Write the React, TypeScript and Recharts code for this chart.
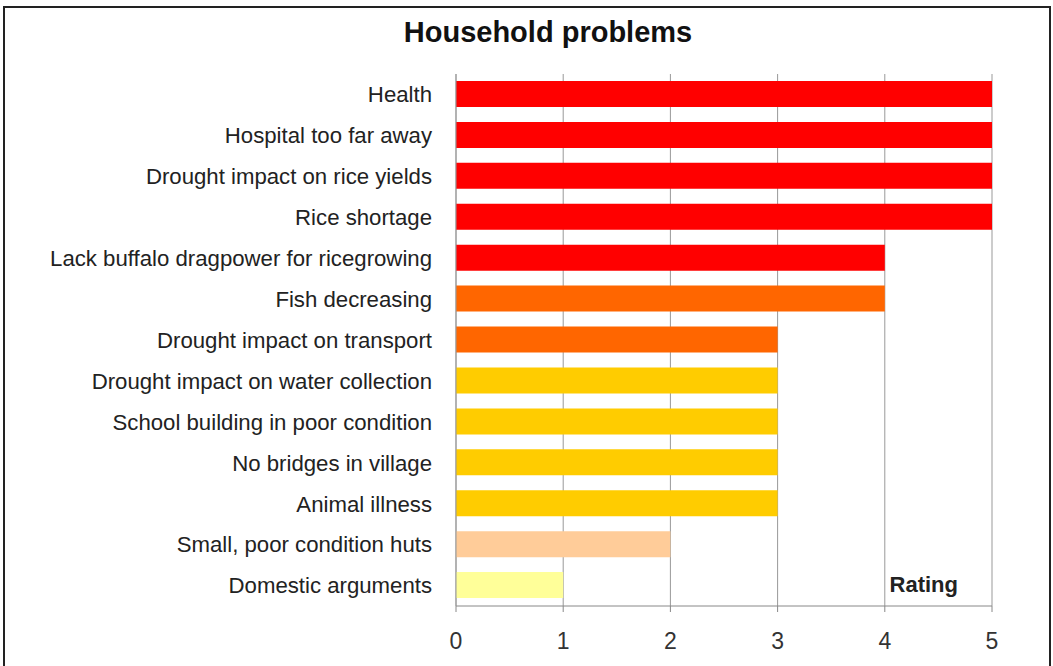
import { Bar, BarChart, CartesianGrid, Cell, Label, XAxis, YAxis } from 'recharts';

const problems = [
  'Health',
  'Hospital too far away',
  'Drought impact on rice yields',
  'Rice shortage',
  'Lack buffalo dragpower for ricegrowing',
  'Fish decreasing',
  'Drought impact on transport',
  'Drought impact on water collection',
  'School building in poor condition',
  'No bridges in village',
  'Animal illness',
  'Small, poor condition huts',
  'Domestic arguments',
];

const ratings = [5, 5, 5, 5, 4, 4, 3, 3, 3, 3, 3, 2, 1];

const ratingTicks = [0, 1, 2, 3, 4, 5];

// one fill per bar, severity from red down to pale yellow
const barColors = [
  '#FF0000',
  '#FF0000',
  '#FF0000',
  '#FF0000',
  '#FF0000',
  '#FF6600',
  '#FF6600',
  '#FFCC00',
  '#FFCC00',
  '#FFCC00',
  '#FFCC00',
  '#FFCC99',
  '#FFFF99',
];

const rows = problems.map((name, i) => ({ name, rating: ratings[i] }));

const FONT = '"Liberation Sans", Arial, sans-serif';

function RatingLabel({ viewBox }: { viewBox?: { x: number; y: number; width: number } }) {
  if (!viewBox) return null;
  return (
    <text
      x={viewBox.x + viewBox.width - 34}
      y={viewBox.y - 14}
      textAnchor="end"
      fontFamily={FONT}
      fontWeight="bold"
      fontSize={22}
      fill="#222"
    >
      Rating
    </text>
  );
}

export default function App() {
  return (
    <div
      style={{
        position: 'fixed',
        left: 0,
        top: 0,
        width: 1053,
        height: 666,
        overflow: 'hidden',
        background: '#fff',
      }}
    >
      <div
        style={{
          position: 'absolute',
          left: 3,
          top: 6,
          width: 1048,
          height: 720,
          boxSizing: 'border-box',
          border: '2px solid #222',
        }}
      />
      <div
        style={{
          position: 'absolute',
          left: 348,
          top: 18,
          width: 400,
          textAlign: 'center',
          fontFamily: FONT,
          fontWeight: 'bold',
          fontSize: 29,
          lineHeight: 1,
          color: '#111',
        }}
      >
        Household problems
      </div>
      <div style={{ position: 'absolute', left: 0, top: 0 }}>
        <BarChart
          width={1053}
          height={666}
          data={rows}
          layout="vertical"
          margin={{ top: 74, right: 61, bottom: 0, left: 0 }}
          barSize={26}
        >
          <CartesianGrid horizontal={false} stroke="#999" />
          <XAxis
            type="number"
            domain={[0, 5]}
            ticks={ratingTicks}
            height={60}
            stroke="#888"
            tickSize={6}
            tickMargin={21}
            tick={{ fontFamily: FONT, fontSize: 23, fill: '#333' }}
          >
            <Label content={<RatingLabel />} />
          </XAxis>
          <YAxis
            type="category"
            dataKey="name"
            width={456}
            stroke="#999"
            tickLine={false}
            tickSize={0}
            tickMargin={24}
            interval={0}
            tick={{ fontFamily: FONT, fontSize: 22.2, fill: '#222' }}
          />
          <Bar dataKey="rating" isAnimationActive={false}>
            {rows.map((r, i) => (
              <Cell key={r.name} fill={barColors[i]} />
            ))}
          </Bar>
        </BarChart>
      </div>
    </div>
  );
}
